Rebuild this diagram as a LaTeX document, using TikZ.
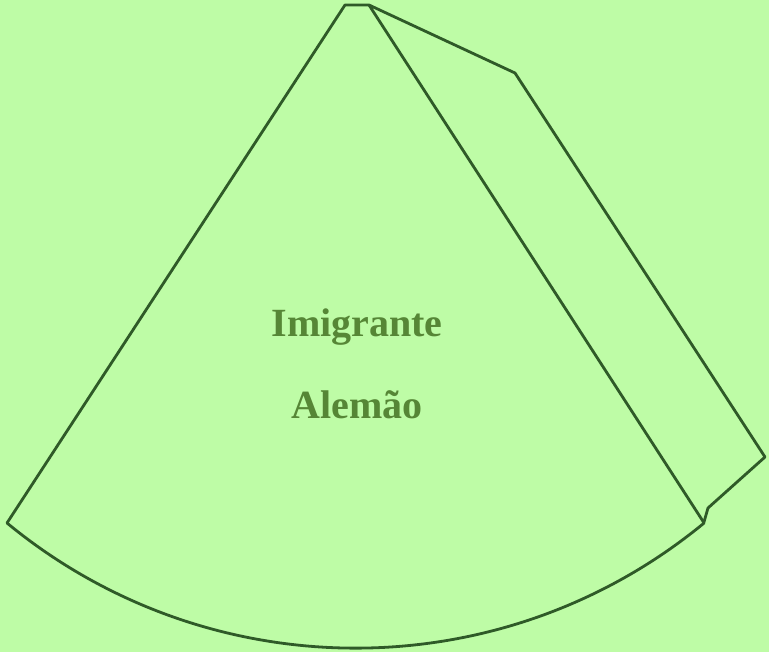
\documentclass[tikz,border=0pt]{standalone}
\usepackage{fontspec}
\setmainfont{Liberation Serif}
\usepackage{tikz}
\definecolor{paper}{HTML}{BEFCA6}
\definecolor{edge}{HTML}{2F5A28}
\definecolor{ink}{HTML}{568636}
\tikzset{
  net/.style={draw=edge, line width=2.8pt, line join=round},
  word/.style={font=\fontsize{40}{48}\selectfont\bfseries, text=ink, anchor=base},
}

\begin{document}
\begin{tikzpicture}[x=1pt, y=-1pt]
    \fill[paper] (0,0) rectangle (769,652);
    \useasboundingbox (0,0) rectangle (769,652);
    % cone net
    \coordinate (apexL) at (345,5);
    \coordinate (apexR) at (369,5);
    \coordinate (left) at (7,523);
    \coordinate (right) at (704,522);
    \coordinate (flapTop) at (515,73);
    \coordinate (flapOut) at (765,457);
    \coordinate (flapLow) at (708,508);
    \draw[net] (apexR) -- (apexL) -- (left)
      arc[start angle=129.5, end angle=50.5, radius=548] -- cycle;
    % glue flap
    \draw[net] (apexR) -- (flapTop) -- (flapOut) -- (flapLow) -- (right);
    \node[word] (top) at (357,337) {Imigrante};
    \node[word] (bottom) at (357,418) {Alemão};
  \end{tikzpicture}
\end{document}
